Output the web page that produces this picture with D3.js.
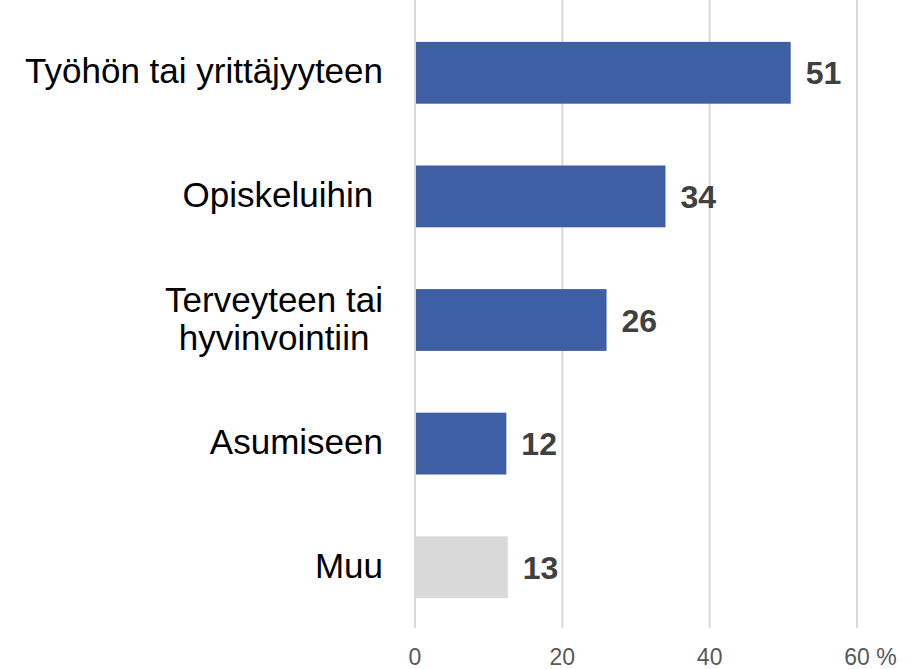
<!DOCTYPE html>
<html>
<head>
<meta charset="utf-8">
<script src="https://cdn.jsdelivr.net/npm/d3@7"></script>
<style>
  body { margin: 0; background: #fff; }
  svg { display: block; font-family: "Liberation Sans", Arial, sans-serif; }
</style>
</head>
<body>
<div id="chart"></div>
<script>
const categories = ["Työhön tai yrittäjyyteen", "Opiskeluihin ", "Terveyteen tai_hyvinvointiin", "Asumiseen", "Muu"];
const values = [51, 34, 26, 12.4, 12.6];
const barColors = ["#3F5FA5", "#3F5FA5", "#3F5FA5", "#3F5FA5", "#D9D9D9"];
const xTicks = [0, 20, 40, 60];

const width = 915, height = 669;
const svg = d3.select("#chart").append("svg")
  .attr("width", width)
  .attr("height", height);

const x = d3.scaleLinear().domain([0, 60]).range([415, 857]);
const y = d3.scaleBand().domain(categories).range([11, 629]).paddingInner(0.5).paddingOuter(0.25);

// gridlines
svg.append("g").selectAll("line")
  .data(xTicks)
  .enter().append("line")
  .attr("x1", d => x(d)).attr("x2", d => x(d))
  .attr("y1", 0).attr("y2", 628)
  .attr("stroke", "#D9D9D9")
  .attr("stroke-width", 2);

// bars
svg.append("g").selectAll("rect")
  .data(categories)
  .enter().append("rect")
  .attr("x", x(0) + 1)
  .attr("y", d => y(d))
  .attr("width", (d, i) => x(values[i]) - x(0) - 1)
  .attr("height", y.bandwidth())
  .attr("fill", (d, i) => barColors[i]);

// value labels
svg.append("g").selectAll("text")
  .data(categories)
  .enter().append("text")
  .attr("x", (d, i) => x(values[i]) + 15)
  .attr("y", d => y(d) + y.bandwidth() / 2)
  .attr("dy", "0.36em")
  .style("font-size", "32px")
  .style("font-weight", "bold")
  .style("fill", "#404040")
  .text((d, i) => d3.format(".0f")(values[i]));

// category labels (wrapped lines centred within a right-aligned block)
const labelG = svg.append("g");
const labelRight = 383;
categories.forEach(d => {
  const lines = d.split("_");
  const cy = y(d) + y.bandwidth() / 2;
  const lh = 38;
  const el = labelG.append("text")
    .attr("xml:space", "preserve")
    .style("font-size", "35px")
    .style("fill", "#000");
  const spans = lines.map((line, i) => el.append("tspan")
    .attr("y", cy + (i - (lines.length - 1) / 2) * lh)
    .attr("dy", "0.3em")
    .text(line));
  if (lines.length === 1) {
    el.attr("text-anchor", "end");
    spans[0].attr("x", labelRight);
  } else {
    const maxW = d3.max(spans, s => s.node().getComputedTextLength());
    el.attr("text-anchor", "middle");
    spans.forEach(s => s.attr("x", labelRight - maxW / 2));
  }
});

// x axis tick labels
const tickG = svg.append("g");
xTicks.forEach((t, i) => {
  const last = i === xTicks.length - 1;
  const txt = tickG.append("text")
    .attr("y", 665)
    .style("font-size", "23px")
    .style("fill", "#595959");
  if (!last) {
    txt.attr("x", x(t)).attr("text-anchor", "middle").text(t);
  } else {
    txt.attr("x", x(t)).attr("text-anchor", "start").attr("xml:space", "preserve").text(t + " %");
    const probe = tickG.append("text").style("font-size", "23px").text(t);
    const w = probe.node().getComputedTextLength();
    probe.remove();
    txt.attr("x", x(t) - w / 2);
  }
});
</script>
</body>
</html>
